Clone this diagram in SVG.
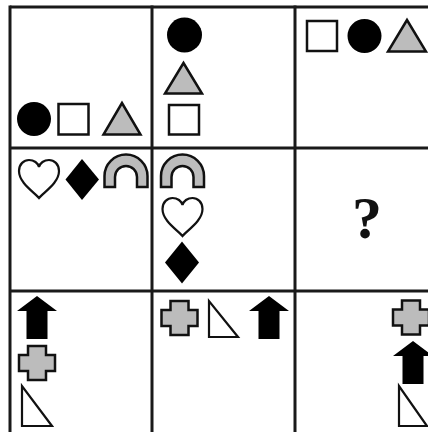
<svg xmlns="http://www.w3.org/2000/svg" width="428" height="432" viewBox="0 0 428 432">
<style>
.grid{stroke:#1a1a1a;stroke-width:3;fill:none}
.blk{fill:#000}
.sq{fill:#fff;stroke:#111;stroke-width:2.5}
.gry{fill:#bcbcbc;stroke:#111;stroke-width:2.5;stroke-linejoin:miter}
.hrt{fill:#fff;stroke:#111;stroke-width:2.2}
.rt{fill:#fff;stroke:#111;stroke-width:2.2}
.q{font-family:"Liberation Serif","Times New Roman",serif;font-weight:bold;font-size:60px;fill:#111}
</style>
<defs>
<path id="heart" d="M0,38 C-5,32 -20,23 -20,11 C-20,4 -15,0 -10,0 C-5,0 -1,3 0,7 C1,3 5,0 10,0 C15,0 20,4 20,11 C20,23 5,32 0,38 Z"/>
<path id="arch" d="M-21.5,0 L-21.5,-11 A21.5,21.5 0 0 1 21.5,-11 L21.5,0 L11,0 L11,-10 A11,11 0 0 0 -11,-10 L-11,0 Z"/>
<path id="cross" d="M-9,-17 L9,-17 L9,-8 L18,-8 L18,8 L9,8 L9,17 L-9,17 L-9,8 L-18,8 L-18,-8 L-9,-8 Z"/>
<path id="arrow" d="M0,0 L20,15 L10.5,15 L10.5,43 L-10.5,43 L-10.5,15 L-20,15 Z"/>
</defs>
<rect width="428" height="432" fill="#fff"/>
<g id="grid" class="grid">
<line x1="10" y1="7" x2="428" y2="7"/>
<line x1="10" y1="148" x2="428" y2="148"/>
<line x1="10" y1="291" x2="428" y2="291"/>
<line x1="10" y1="5.5" x2="10" y2="432"/>
<line x1="152" y1="5.5" x2="152" y2="432"/>
<line x1="295" y1="5.5" x2="295" y2="432"/>
</g>
<g id="cell-1-1">
<circle class="blk" cx="34" cy="119" r="17"/>
<rect class="sq" x="58.5" y="104" width="30" height="30.5"/>
<polygon class="gry" points="122,103 103.5,134.5 140.5,134.5"/>
</g>
<g id="cell-1-2">
<circle class="blk" cx="184.5" cy="35" r="17.5"/>
<polygon class="gry" points="183.5,63 165,93.5 202,93.5"/>
<rect class="sq" x="169" y="105" width="30" height="29.5"/>
</g>
<g id="cell-1-3">
<rect class="sq" x="307" y="21" width="30" height="30"/>
<circle class="blk" cx="364.5" cy="36" r="17"/>
<polygon class="gry" points="407,20 388,51.5 426,51.5"/>
</g>
<g id="cell-2-1">
<use href="#heart" class="hrt" x="39" y="160"/>
<polygon class="blk" points="82,159 99,179.5 82,200 65.5,179.5"/>
<use href="#arch" class="gry" x="126" y="187"/>
</g>
<g id="cell-2-2">
<use href="#arch" class="gry" x="182.5" y="187"/>
<use href="#heart" class="hrt" x="182.5" y="198"/>
<polygon class="blk" points="182,241.5 199,262.5 182,283.5 165,262.5"/>
</g>
<g id="cell-2-3">
<text class="q" x="367" y="238" text-anchor="middle">?</text>
</g>
<g id="cell-3-1">
<use href="#arrow" class="blk" x="37" y="296"/>
<use href="#cross" class="gry" x="37" y="363"/>
<polygon class="rt" points="22,386 22,426 52,426"/>
</g>
<g id="cell-3-2">
<use href="#cross" class="gry" x="179.5" y="318"/>
<polygon class="rt" points="209,301 209,337 238,337"/>
<use href="#arrow" class="blk" x="269" y="296"/>
</g>
<g id="cell-3-3">
<use href="#cross" class="gry" x="411" y="317.5"/>
<use href="#arrow" class="blk" x="413" y="341"/>
<polygon class="rt" points="399,386 399,426 427,426"/>
</g>
</svg>
